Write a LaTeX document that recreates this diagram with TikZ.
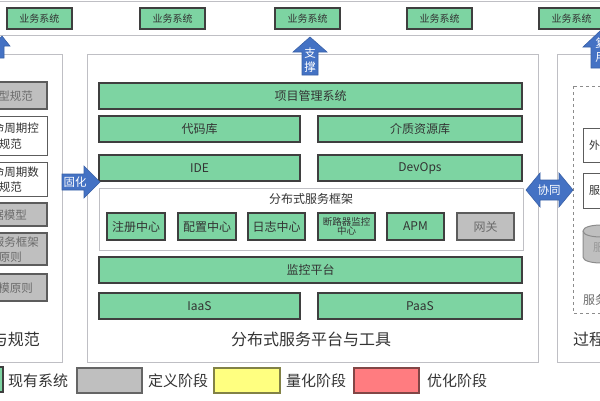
\documentclass[tikz,border=0pt]{standalone}
\usepackage{fontspec}
\setmainfont{Noto Sans CJK SC}
\definecolor{gfill}{HTML}{7DD4A2}
\definecolor{gline}{HTML}{3F3F3F}
\definecolor{grayfill}{HTML}{BFBFBF}
\definecolor{panel}{HTML}{BFBFC4}
\definecolor{arrowblue}{HTML}{4472C4}
\definecolor{txt}{HTML}{333333}
\definecolor{graytxt}{HTML}{6B6B6B}
\newcommand\fs[1]{\fontsize{#1}{#1}\selectfont}
\newcommand\rbox[7]{\node[#1, minimum width={#5-#3}, minimum height={#6-#4}] (#2) at ({(#3+#5)/2},{(#4+#6)/2}) {#7};}
\tikzset{
  gbox/.style={draw=gline, fill=gfill, line width=1.2pt, text=txt, inner sep=0pt, align=center, font=\fs{12}},
  graybox/.style={draw=gline!85, fill=grayfill, line width=1.2pt, text=graytxt, inner sep=0pt, align=center, font=\fs{12}},
  wbox/.style={draw=gline!85, fill=white, line width=1pt, text=txt, inner sep=0pt, align=center, font=\fs{12}},
  panelbox/.style={draw=panel, line width=0.8pt, fill=white, inner sep=0pt},
  barrow/.style={fill=arrowblue, draw=arrowblue!85!black, line width=0.6pt},
  atext/.style={text=white, font=\fs{11.5}, inner sep=0pt, align=center},
  lbl/.style={text=txt, inner sep=0pt},
  cyl/.style={fill=grayfill, draw=gline!60, line width=1pt},
}
\begin{document}
\begin{tikzpicture}[x=1pt,y=-1pt]
\useasboundingbox (0,0) rectangle (600,400);
% top band
\rbox{panelbox}{band}{-5}{1}{605}{35}{}
\rbox{gbox, font=\fs{10}}{b1}{7}{8}{72}{29}{业务系统}
\rbox{gbox, font=\fs{10}}{b2}{140}{8}{205}{29}{业务系统}
\rbox{gbox, font=\fs{10}}{b3}{275}{8}{340}{29}{业务系统}
\rbox{gbox, font=\fs{10}}{b4}{407}{8}{472}{29}{业务系统}
\rbox{gbox, font=\fs{10}}{b5}{539}{8}{604}{29}{业务系统}
% panels
\rbox{panelbox}{lp}{-5}{54}{62}{362}{}
\rbox{panelbox}{cp}{87}{54}{538}{362}{}
\rbox{panelbox}{rp}{557}{54}{615}{362}{}
% left panel
\rbox{graybox}{lb1}{-20}{82}{47}{109}{}
\rbox{wbox}{lb2}{-20}{116}{47}{155}{}
\rbox{wbox}{lb3}{-20}{162}{47}{196}{}
\rbox{graybox}{lb4}{-20}{203}{47}{226}{}
\rbox{graybox}{lb5}{-20}{233}{47}{265}{}
\rbox{graybox}{lb6}{-20}{274}{47}{301}{}
\node[lbl, text=graytxt, font=\fs{11.5}, anchor=east] (lt1) at (33,96) {型规范};
\node[lbl, font=\fs{11.5}, anchor=east] (lt2a) at (39,128) {命周期控};
\node[lbl, font=\fs{11.5}, anchor=east] (lt2b) at (22,144) {规范};
\node[lbl, font=\fs{11.5}, anchor=east] (lt3a) at (39,172) {命周期数};
\node[lbl, font=\fs{11.5}, anchor=east] (lt3b) at (22,187) {规范};
\node[lbl, text=graytxt, font=\fs{11.5}, anchor=east] (lt4) at (27,215) {据模型};
\node[lbl, text=graytxt, font=\fs{11.5}, anchor=east] (lt5a) at (39,242) {服务框架};
\node[lbl, text=graytxt, font=\fs{11.5}, anchor=east] (lt5b) at (22,257) {原则};
\node[lbl, text=graytxt, font=\fs{11.5}, anchor=east] (lt6) at (33,288) {模原则};
\node[lbl, font=\fs{16}, anchor=east] (ltitle) at (40,339) {与规范};
% center panel
\rbox{gbox}{pm}{99}{83}{522}{109}{项目管理系统}
\rbox{gbox}{code}{99}{116}{300}{142}{代码库}
\rbox{gbox}{media}{318}{116}{522}{142}{介质资源库}
\rbox{gbox}{ide}{99}{155}{300}{181}{IDE}
\rbox{gbox}{devops}{318}{155}{522}{181}{DevOps}
\rbox{panelbox}{dsf}{99}{188}{523}{250}{}
\node[lbl, font=\fs{12}] (dsft) at (311,199) {分布式服务框架};
\rbox{gbox}{reg}{107}{213}{165}{240}{注册中心}
\rbox{gbox}{cfg}{178}{213}{236}{240}{配置中心}
\rbox{gbox}{log}{248}{213}{305}{240}{日志中心}
\rbox{gbox, font=\fs{9.5}}{cb}{318}{213}{375}{240}{断路器监控\\[-1pt]中心}
\rbox{gbox}{apm}{387}{213}{444}{240}{APM}
\rbox{graybox}{gw}{457}{213}{514}{240}{网关}
\rbox{gbox}{mon}{99}{257}{522}{283}{监控平台}
\rbox{gbox}{iaas}{99}{293}{300}{319}{IaaS}
\rbox{gbox}{paas}{318}{293}{522}{319}{PaaS}
\node[lbl, font=\fs{16}] (ctitle) at (311,339) {分布式服务平台与工具};
% right panel
\draw[draw=gline!60, dashed, line width=0.8pt] (573,86) rectangle (615,313);
\rbox{wbox}{rb1}{583}{128}{620}{162}{}
\rbox{wbox}{rb2}{583}{173}{620}{208}{}
\node[lbl, font=\fs{11}, anchor=west] (rt1) at (589,145) {外部};
\node[lbl, font=\fs{11}, anchor=west] (rt2) at (589,190) {服务};
\filldraw[cyl] (583,231) -- (583,257) .. controls (583,265) and (619,265) .. (619,257) -- (619,231) .. controls (619,223) and (583,223) .. (583,231) -- cycle;
\draw[cyl, fill=none] (583,231) .. controls (583,239) and (619,239) .. (619,231);
\node[lbl, text=graytxt!70, font=\fs{11}, anchor=west] (rt3) at (593,247) {服务};
\node[lbl, text=graytxt, font=\fs{12}, anchor=west] (rt4) at (583,300) {服务};
\node[lbl, font=\fs{16}, anchor=west] (rtitle) at (573,339) {过程};
% arrows
\filldraw[barrow] (62,174) -- (84,174) -- (84,166) -- (100,182) -- (84,198) -- (84,190) -- (62,190) -- cycle;
\node[atext] (ga) at (75,182) {固化};
\filldraw[barrow] (302,75) -- (302,52) -- (293,52) -- (310,37) -- (327,52) -- (318,52) -- (318,75) -- cycle;
\node[atext] (za) at (310,60) {支\\[3pt]撑};
\filldraw[barrow] (-15,58) -- (-15,46) -- (-7,46) -- (2,36) -- (10,46) -- (4,46) -- (4,58) -- cycle;
\filldraw[barrow] (591,68) -- (591,47) -- (583,47) -- (600,31) -- (617,47) -- (609,47) -- (609,68) -- cycle;
\node[atext] (fa) at (601,50) {复\\[3pt]用};
\filldraw[barrow] (526,190) -- (540,173) -- (540,180) -- (559,180) -- (559,173) -- (573,190) -- (559,207) -- (559,200) -- (540,200) -- (540,207) -- cycle;
\node[atext] (xa) at (549,190) {协同};
% legend
\rbox{gbox}{lg1}{-20}{367}{3}{392}{}
\node[lbl, font=\fs{15}, anchor=west] (lgt1) at (8,381) {现有系统};
\rbox{graybox, draw=gline!80, line width=1.5pt}{lg2}{77}{368}{142}{393}{}
\node[lbl, font=\fs{15}, anchor=west] (lgt2) at (148,381) {定义阶段};
\rbox{graybox, fill={rgb,255:red,255;green,255;blue,128}, draw={rgb,255:red,130;green,130;blue,70}, line width=1.2pt}{lg3}{214}{368}{280}{393}{}
\node[lbl, font=\fs{15}, anchor=west] (lgt3) at (286,381) {量化阶段};
\rbox{graybox, fill={rgb,255:red,255;green,124;blue,128}, draw={rgb,255:red,130;green,70;blue,70}, line width=1.2pt}{lg4}{354}{368}{419}{393}{}
\node[lbl, font=\fs{15}, anchor=west] (lgt4) at (427,381) {优化阶段};
\end{tikzpicture}
\end{document}
